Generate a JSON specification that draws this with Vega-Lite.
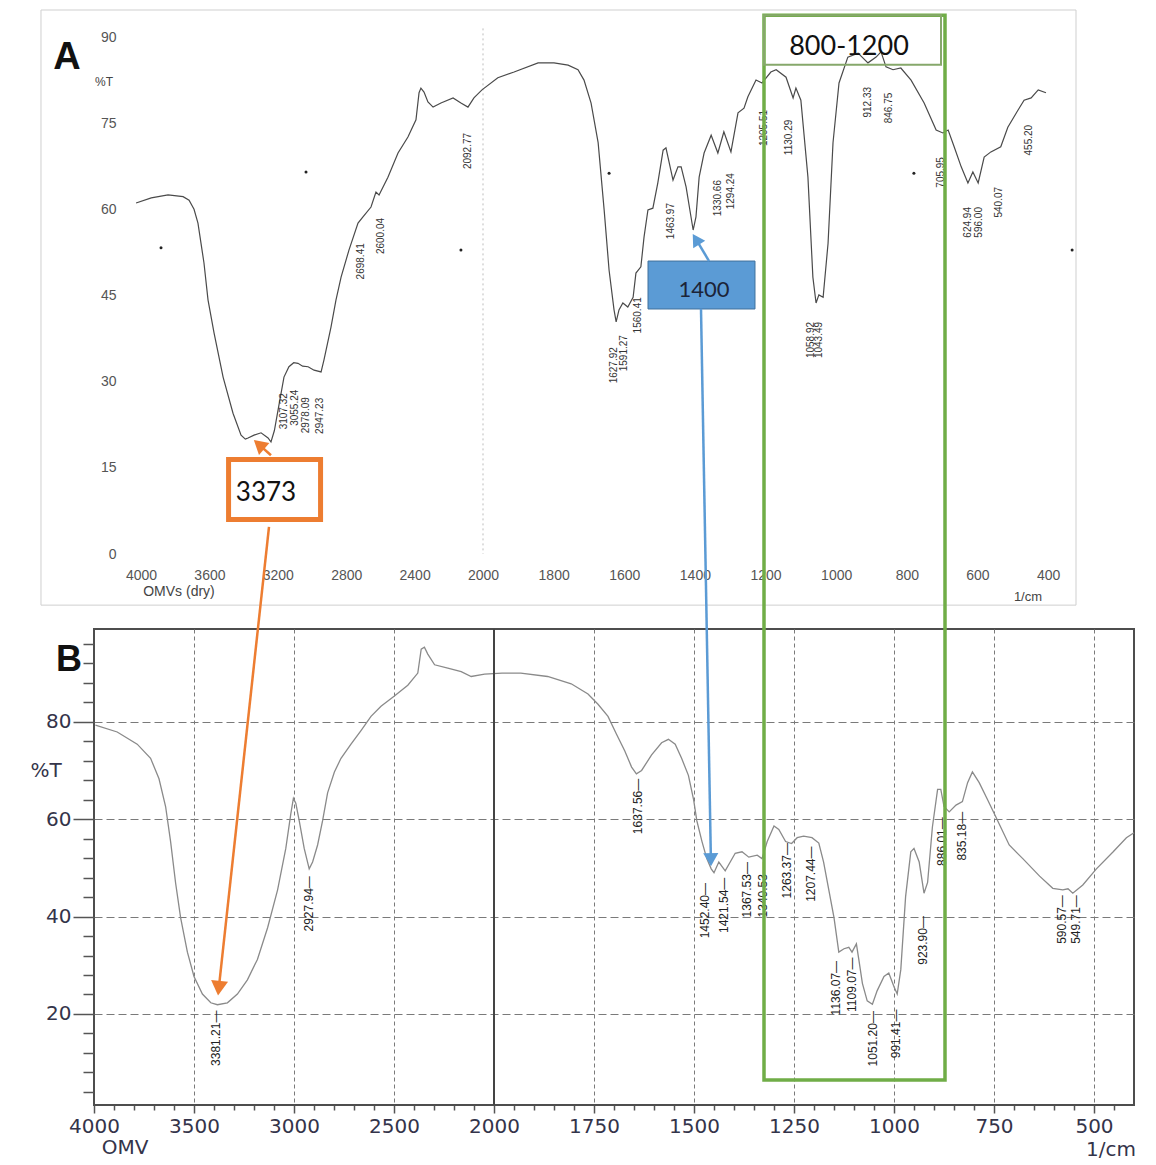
{
"$schema": "https://vega.github.io/schema/vega-lite/v6.json",
"padding": 0,
"autosize": {"type": "pad"},
"background": "white",
"spacing": 75,
"bounds": "flush",
"config": {"view": {"stroke": null}, "axis": {"labelFlush": false, "labelOverlap": false}, "font": "Liberation Sans"},
"datasets": {
"specA": [
{"wn":4029,"t":61.1},{"wn":3940,"t":62.0},{"wn":3842,"t":62.5},{"wn":3754,"t":62.2},{"wn":3719,"t":61.6},{"wn":3690,"t":60.0},{"wn":3667,"t":57.6},{"wn":3632,"t":50.7},{"wn":3608,"t":44.2},{"wn":3573,"t":38.5},{"wn":3520,"t":30.8},{"wn":3462,"t":24.5},{"wn":3415,"t":20.7},{"wn":3390,"t":20.0},{"wn":3374,"t":20.2},{"wn":3339,"t":20.7},{"wn":3298,"t":21.1},{"wn":3257,"t":20.2},{"wn":3240,"t":19.5},{"wn":3220,"t":21.5},{"wn":3199,"t":25.0},{"wn":3164,"t":30.8},{"wn":3135,"t":32.6},{"wn":3107,"t":33.3},{"wn":3082,"t":33.2},{"wn":3055,"t":32.7},{"wn":3023,"t":32.6},{"wn":2988,"t":32.0},{"wn":2947,"t":31.7},{"wn":2930,"t":33.8},{"wn":2889,"t":39.5},{"wn":2860,"t":44.2},{"wn":2830,"t":48.2},{"wn":2784,"t":52.9},{"wn":2731,"t":57.6},{"wn":2702,"t":58.7},{"wn":2655,"t":60.4},{"wn":2626,"t":63.0},{"wn":2608,"t":62.5},{"wn":2556,"t":65.6},{"wn":2497,"t":69.8},{"wn":2439,"t":72.6},{"wn":2392,"t":75.6},{"wn":2374,"t":80.3},{"wn":2363,"t":81.1},{"wn":2345,"t":80.4},{"wn":2322,"t":78.7},{"wn":2292,"t":77.8},{"wn":2246,"t":78.5},{"wn":2175,"t":79.4},{"wn":2129,"t":78.5},{"wn":2088,"t":77.8},{"wn":2053,"t":79.4},{"wn":2006,"t":80.8},{"wn":1958,"t":82.9},{"wn":1912,"t":83.9},{"wn":1844,"t":85.5},{"wn":1799,"t":85.5},{"wn":1759,"t":85.1},{"wn":1731,"t":84.3},{"wn":1714,"t":82.5},{"wn":1694,"t":78.5},{"wn":1674,"t":71.6},{"wn":1657,"t":59.9},{"wn":1643,"t":49.4},{"wn":1629,"t":42.5},{"wn":1623,"t":40.4},{"wn":1615,"t":42.5},{"wn":1604,"t":43.7},{"wn":1590,"t":43.0},{"wn":1575,"t":44.7},{"wn":1567,"t":48.9},{"wn":1553,"t":50.0},{"wn":1544,"t":55.2},{"wn":1533,"t":59.9},{"wn":1519,"t":60.2},{"wn":1505,"t":64.6},{"wn":1490,"t":70.3},{"wn":1482,"t":70.7},{"wn":1462,"t":65.1},{"wn":1448,"t":67.4},{"wn":1439,"t":67.4},{"wn":1425,"t":63.9},{"wn":1405,"t":56.4},{"wn":1397,"t":58.7},{"wn":1388,"t":65.6},{"wn":1374,"t":69.8},{"wn":1354,"t":72.9},{"wn":1335,"t":69.8},{"wn":1318,"t":73.5},{"wn":1298,"t":70.0},{"wn":1278,"t":76.8},{"wn":1261,"t":77.6},{"wn":1250,"t":79.6},{"wn":1227,"t":82.5},{"wn":1210,"t":82.0},{"wn":1185,"t":83.9},{"wn":1170,"t":84.3},{"wn":1142,"t":83.0},{"wn":1122,"t":79.4},{"wn":1114,"t":81.1},{"wn":1100,"t":79.0},{"wn":1080,"t":65.6},{"wn":1066,"t":48.2},{"wn":1057,"t":43.7},{"wn":1049,"t":45.1},{"wn":1037,"t":44.7},{"wn":1023,"t":54.1},{"wn":1009,"t":71.6},{"wn":992,"t":82.0},{"wn":967,"t":86.5},{"wn":938,"t":87.2},{"wn":910,"t":85.5},{"wn":887,"t":86.5},{"wn":873,"t":87.4},{"wn":859,"t":84.8},{"wn":839,"t":84.3},{"wn":817,"t":84.6},{"wn":788,"t":82.5},{"wn":751,"t":78.5},{"wn":717,"t":73.8},{"wn":698,"t":73.3},{"wn":683,"t":73.8},{"wn":666,"t":70.9},{"wn":646,"t":67.4},{"wn":627,"t":64.6},{"wn":613,"t":66.5},{"wn":598,"t":64.6},{"wn":581,"t":69.1},{"wn":562,"t":70.0},{"wn":534,"t":70.9},{"wn":514,"t":74.3},{"wn":485,"t":77.3},{"wn":468,"t":79.0},{"wn":448,"t":79.4},{"wn":428,"t":80.8},{"wn":406,"t":80.3}
],
"specB": [
{"wn":3993,"t":79.3},{"wn":3884,"t":77.9},{"wn":3784,"t":75.4},{"wn":3717,"t":72.5},{"wn":3675,"t":68.3},{"wn":3642,"t":62.6},{"wn":3617,"t":55.4},{"wn":3592,"t":46.9},{"wn":3567,"t":39.8},{"wn":3533,"t":32.7},{"wn":3500,"t":27.7},{"wn":3458,"t":24.1},{"wn":3416,"t":22.3},{"wn":3383,"t":21.9},{"wn":3333,"t":22.3},{"wn":3283,"t":24.1},{"wn":3233,"t":27.0},{"wn":3183,"t":31.2},{"wn":3132,"t":37.7},{"wn":3082,"t":45.5},{"wn":3041,"t":54.0},{"wn":3016,"t":61.1},{"wn":3003,"t":64.3},{"wn":2991,"t":63.3},{"wn":2974,"t":59.7},{"wn":2949,"t":54.0},{"wn":2924,"t":49.8},{"wn":2907,"t":51.2},{"wn":2882,"t":54.7},{"wn":2857,"t":59.7},{"wn":2832,"t":65.4},{"wn":2798,"t":69.7},{"wn":2765,"t":72.5},{"wn":2715,"t":75.4},{"wn":2665,"t":78.2},{"wn":2615,"t":81.1},{"wn":2565,"t":83.2},{"wn":2498,"t":85.3},{"wn":2431,"t":87.5},{"wn":2381,"t":90.0},{"wn":2364,"t":94.9},{"wn":2348,"t":95.3},{"wn":2331,"t":93.9},{"wn":2297,"t":91.7},{"wn":2231,"t":91.0},{"wn":2164,"t":90.3},{"wn":2114,"t":89.3},{"wn":2047,"t":89.8},{"wn":1980,"t":90.0},{"wn":1933,"t":90.0},{"wn":1866,"t":89.3},{"wn":1807,"t":87.8},{"wn":1765,"t":85.7},{"wn":1740,"t":83.6},{"wn":1715,"t":81.1},{"wn":1694,"t":77.5},{"wn":1673,"t":74.0},{"wn":1656,"t":70.7},{"wn":1644,"t":69.3},{"wn":1631,"t":70.0},{"wn":1606,"t":73.2},{"wn":1581,"t":75.7},{"wn":1564,"t":76.4},{"wn":1547,"t":75.4},{"wn":1531,"t":72.5},{"wn":1514,"t":69.0},{"wn":1501,"t":64.0},{"wn":1493,"t":59.7},{"wn":1480,"t":55.4},{"wn":1468,"t":51.9},{"wn":1457,"t":49.8},{"wn":1450,"t":49.0},{"wn":1438,"t":51.2},{"wn":1422,"t":49.4},{"wn":1397,"t":53.0},{"wn":1380,"t":53.3},{"wn":1363,"t":52.2},{"wn":1342,"t":52.6},{"wn":1330,"t":51.9},{"wn":1317,"t":55.4},{"wn":1300,"t":58.6},{"wn":1288,"t":57.9},{"wn":1271,"t":55.4},{"wn":1256,"t":55.0},{"wn":1242,"t":56.2},{"wn":1226,"t":56.5},{"wn":1205,"t":56.2},{"wn":1188,"t":55.1},{"wn":1176,"t":51.2},{"wn":1163,"t":45.5},{"wn":1150,"t":39.8},{"wn":1138,"t":32.7},{"wn":1125,"t":33.4},{"wn":1113,"t":33.7},{"wn":1105,"t":32.7},{"wn":1094,"t":34.4},{"wn":1088,"t":31.2},{"wn":1079,"t":26.3},{"wn":1067,"t":22.7},{"wn":1054,"t":22.0},{"wn":1042,"t":24.8},{"wn":1025,"t":27.7},{"wn":1013,"t":28.4},{"wn":1000,"t":25.6},{"wn":992,"t":24.1},{"wn":983,"t":29.1},{"wn":971,"t":44.1},{"wn":958,"t":53.3},{"wn":950,"t":54.0},{"wn":937,"t":51.2},{"wn":925,"t":44.8},{"wn":916,"t":47.0},{"wn":904,"t":58.4},{"wn":891,"t":66.1},{"wn":883,"t":66.1},{"wn":875,"t":62.6},{"wn":862,"t":61.5},{"wn":845,"t":62.9},{"wn":829,"t":63.6},{"wn":816,"t":67.5},{"wn":804,"t":69.7},{"wn":787,"t":67.5},{"wn":766,"t":64.0},{"wn":745,"t":60.4},{"wn":712,"t":54.7},{"wn":678,"t":51.9},{"wn":636,"t":48.3},{"wn":603,"t":45.8},{"wn":578,"t":45.5},{"wn":565,"t":45.7},{"wn":553,"t":44.8},{"wn":528,"t":46.5},{"wn":494,"t":49.8},{"wn":452,"t":53.3},{"wn":419,"t":56.2},{"wn":400,"t":57.2}
],
"labA": [
{"lab":"3107.32","pos":3164,"top":28.0},{"lab":"3055.24","pos":3099,"top":28.6},{"lab":"2978.09","pos":3035,"top":27.3},{"lab":"2947.23","pos":2953,"top":27.2},
{"lab":"2698.41","pos":2713,"top":54.1},{"lab":"2600.04","pos":2596,"top":58.5},{"lab":"2092.77","pos":2088,"top":73.3},
{"lab":"1627.92","pos":1629,"top":36.0},{"lab":"1591.27","pos":1601,"top":38.1},{"lab":"1560.41","pos":1561,"top":44.7},
{"lab":"1463.97","pos":1468,"top":61.1},{"lab":"1330.66","pos":1335,"top":65.1},{"lab":"1294.24","pos":1298,"top":66.3},
{"lab":"1205.51","pos":1204,"top":77.3},{"lab":"1130.29","pos":1134,"top":75.6},{"lab":"1058.92","pos":1071,"top":40.4},
{"lab":"1043.49","pos":1049,"top":40.4},{"lab":"912.33","pos":910,"top":81.3},{"lab":"846.75","pos":850,"top":80.3},
{"lab":"705.95","pos":703,"top":69.1},{"lab":"624.94","pos":627,"top":60.4},{"lab":"596.00","pos":596,"top":60.4},
{"lab":"540.07","pos":539,"top":63.9},{"lab":"455.20","pos":454,"top":74.7}
],
"labB": [
{"lab":"3381.21—","pos":3391,"top":20.7},{"lab":"2927.94—","pos":2924,"top":48.3},{"lab":"1637.56—","pos":1641,"top":68.3},
{"lab":"1452.40—","pos":1472,"top":46.9},{"lab":"1421.54—","pos":1426,"top":48.0},{"lab":"1367.53—","pos":1367,"top":51.2},
{"lab":"1340.53—","pos":1328,"top":51.2},{"lab":"1263.37—","pos":1268,"top":55.1},{"lab":"1207.44—","pos":1207,"top":54.4},
{"lab":"1136.07—","pos":1146,"top":30.9},{"lab":"1109.07—","pos":1105,"top":31.6},{"lab":"1051.20—","pos":1052,"top":20.6},
{"lab":"991.41—","pos":994,"top":20.9},{"lab":"923.90—","pos":927,"top":40.1},{"lab":"886.01—","pos":879,"top":60.4},
{"lab":"835.18—","pos":830,"top":61.5},{"lab":"590.57—","pos":579,"top":44.4},{"lab":"549.71—","pos":546,"top":44.4}
],
"dotsA": [
{"wn":3883,"t":53.3},{"wn":3035,"t":66.5},{"wn":2129,"t":52.9},{"wn":1643,"t":66.3},{"wn":780,"t":66.3},{"wn":332,"t":52.9}
]
},
"vconcat": [
{
"width": 982, "height": 517,
"resolve": {"axis": {"x": "independent", "y": "independent"}},
"layer": [
{"data": {"values": [{}]}, "mark": {"type": "rect", "fill": "white", "fillOpacity": 0},
 "encoding": {
  "x": {"datum": 4818.9, "type": "quantitative", "scale": {"domain": [4275, 2000, 321], "range": [0, 389, 982], "nice": false, "zero": false}, "axis": null},
  "x2": {"datum": 91.7},
  "y": {"datum": 96.44, "type": "quantitative", "scale": {"domain": [0, 90], "nice": false, "zero": false}, "axis": null},
  "y2": {"datum": -106.36}}},
{"data": {"values": [{}]}, "mark": {"type": "rect", "fill": null, "stroke": "#cfcfcf", "strokeWidth": 1},
 "encoding": {"x": {"datum": 4585, "type": "quantitative", "axis": null}, "x2": {"datum": 321}, "y": {"datum": 94.7, "type": "quantitative", "axis": null}, "y2": {"datum": -8.9}}},
{"data": {"values": [{}]}, "mark": {"type": "rule", "color": "#bdbdbd", "strokeDash": [2, 3], "strokeWidth": 1},
 "encoding": {"x": {"datum": 2000, "type": "quantitative", "axis": null}, "y": {"datum": 91.5, "type": "quantitative", "axis": null}, "y2": {"datum": 0}}},
{"data": {"name": "specA"}, "mark": {"type": "line", "color": "#4a4a4a", "strokeWidth": 1.2},
 "encoding": {
  "x": {"field": "wn", "type": "quantitative", "axis": {"orient": "bottom", "format": "d", "zindex": 1, "values": [4000,3600,3200,2800,2400,2000,1800,1600,1400,1200,1000,800,600,400], "title": null, "domain": false, "ticks": false, "tickSize": 0, "grid": false, "labelFontSize": 14, "labelColor": "#555555", "labelPadding": 14}},
  "y": {"field": "t", "type": "quantitative", "axis": {"orient": "left", "format": "d", "zindex": 1, "values": [0,15,30,45,60,75,90], "title": null, "domain": false, "ticks": false, "tickSize": 0, "grid": false, "offset": -24, "labelFontSize": 14, "labelColor": "#555555", "labelPadding": 2}}}},
{"data": {"name": "labA"}, "mark": {"type": "text", "angle": 270, "align": "right", "baseline": "middle", "fontSize": 10, "color": "#333333"},
 "encoding": {"x": {"field": "pos", "type": "quantitative", "axis": null}, "y": {"field": "top", "type": "quantitative", "axis": null}, "text": {"field": "lab"}}},
{"data": {"name": "dotsA"}, "mark": {"type": "point", "filled": true, "color": "#222222", "size": 9, "opacity": 1},
 "encoding": {"x": {"field": "wn", "type": "quantitative", "axis": null}, "y": {"field": "t", "type": "quantitative", "axis": null}}},
{"data": {"values": [{}]}, "mark": {"type": "rect", "fill": "white", "stroke": "#ED7D31", "strokeWidth": 5},
 "encoding": {"x": {"datum": 3488, "type": "quantitative", "axis": null}, "x2": {"datum": 2950}, "y": {"datum": 16.45, "type": "quantitative", "axis": null}, "y2": {"datum": 6.0}}},
{"data": {"values": [{}]}, "mark": {"type": "text", "text": "3373", "font": "Lato", "fontSize": 26, "color": "#111111", "align": "center", "baseline": "middle"},
 "encoding": {"x": {"datum": 3269, "type": "quantitative", "axis": null}, "y": {"datum": 10.6, "type": "quantitative", "axis": null}}},
{"data": {"values": [{}]}, "mark": {"type": "rule", "color": "#ED7D31", "strokeWidth": 2.5},
 "encoding": {"x": {"datum": 3240, "type": "quantitative", "axis": null}, "x2": {"datum": 3310}, "y": {"datum": 17.2, "type": "quantitative", "axis": null}, "y2": {"datum": 19.05}}},
{"data": {"values": [{}]}, "mark": {"type": "point", "shape": "triangle-up", "filled": true, "color": "#ED7D31", "size": 250, "angle": 311, "opacity": 1},
 "encoding": {"x": {"datum": 3310, "type": "quantitative", "axis": null}, "y": {"datum": 19.05, "type": "quantitative", "axis": null}}},
{"data": {"values": [{}]}, "mark": {"type": "rect", "fill": "#5B9BD5", "stroke": "#41719C", "strokeWidth": 1},
 "encoding": {"x": {"datum": 1532.8, "type": "quantitative", "axis": null}, "x2": {"datum": 1229.9}, "y": {"datum": 51.0, "type": "quantitative", "axis": null}, "y2": {"datum": 42.65}}},
{"data": {"values": [{}]}, "mark": {"type": "text", "text": "1400", "font": "Lato", "fontSize": 22, "color": "#1c2438", "align": "center", "baseline": "middle"},
 "encoding": {"x": {"datum": 1374.3, "type": "quantitative", "axis": null}, "y": {"datum": 45.96, "type": "quantitative", "axis": null}}},
{"data": {"values": [{}]}, "mark": {"type": "rule", "color": "#5B9BD5", "strokeWidth": 2.5},
 "encoding": {"x": {"datum": 1360, "type": "quantitative", "axis": null}, "x2": {"datum": 1397}, "y": {"datum": 51.0, "type": "quantitative", "axis": null}, "y2": {"datum": 54.8}}},
{"data": {"values": [{}]}, "mark": {"type": "point", "shape": "triangle-up", "filled": true, "color": "#5B9BD5", "size": 200, "angle": 328, "opacity": 1},
 "encoding": {"x": {"datum": 1397, "type": "quantitative", "axis": null}, "y": {"datum": 54.8, "type": "quantitative", "axis": null}}},
{"data": {"values": [{}]}, "mark": {"type": "text", "text": "A", "fontSize": 38, "fontWeight": "bold", "color": "#111111", "align": "center", "baseline": "middle"},
 "encoding": {"x": {"datum": 4433, "type": "quantitative", "axis": null}, "y": {"datum": 86.35, "type": "quantitative", "axis": null}}},
{"data": {"values": [{}]}, "mark": {"type": "text", "text": "%T", "fontSize": 12, "color": "#444444", "align": "center", "baseline": "middle"},
 "encoding": {"x": {"datum": 4216, "type": "quantitative", "axis": null}, "y": {"datum": 82.2, "type": "quantitative", "axis": null}}},
{"data": {"values": [{}]}, "mark": {"type": "text", "text": "OMVs (dry)", "fontSize": 14, "color": "#444444", "align": "center", "baseline": "middle"},
 "encoding": {"x": {"datum": 3778, "type": "quantitative", "axis": null}, "y": {"datum": -6.6, "type": "quantitative", "axis": null}}},
{"data": {"values": [{}]}, "mark": {"type": "text", "text": "1/cm", "fontSize": 13, "color": "#444444", "align": "center", "baseline": "middle"},
 "encoding": {"x": {"datum": 457, "type": "quantitative", "axis": null}, "y": {"datum": -7.5, "type": "quantitative", "axis": null}}}
]
},
{
"width": 1040, "height": 476,
"view": {"stroke": "#4d4d4d", "strokeWidth": 2},
"resolve": {"axis": {"x": "independent", "y": "independent"}},
"layer": [
{"data": {"name": "specB"}, "mark": {"type": "line", "strokeOpacity": 0},
 "encoding": {
  "x": {"field": "wn", "type": "quantitative", "scale": {"domain": [4000, 2000, 400], "range": [0, 400, 1040], "nice": false, "zero": false},
        "axis": {"orient": "bottom", "values": [3500,3000,2500,1750,1500,1250,1000,750,500], "grid": true, "gridDash": [4, 3], "gridColor": "#7a7a7a", "gridWidth": 1, "labels": false, "ticks": false, "domain": false, "title": null}},
  "y": {"field": "t", "type": "quantitative", "scale": {"domain": [1.31, 99.05], "nice": false, "zero": false},
        "axis": {"orient": "left", "values": [20,40,60,80], "grid": true, "gridDash": [8, 4], "gridColor": "#7a7a7a", "gridWidth": 1, "labels": false, "ticks": false, "domain": false, "title": null}}}},
{"data": {"name": "specB"}, "mark": {"type": "line", "strokeOpacity": 0},
 "encoding": {
  "x": {"field": "wn", "type": "quantitative",
        "axis": {"orient": "bottom", "values": [3900,3800,3700,3600,3400,3300,3200,3100,2900,2800,2700,2600,2400,2300,2200,2100,1950,1900,1850,1800,1700,1650,1600,1550,1450,1400,1350,1300,1200,1150,1100,1050,950,900,850,800,700,650,600,550,450], "grid": false, "labels": false, "ticks": true, "tickSize": 5, "tickColor": "#555555", "tickWidth": 1.5, "domain": false, "title": null}},
  "y": {"field": "t", "type": "quantitative",
        "axis": {"orient": "left", "values": [4,8,12,16,24,28,32,36,44,48,52,56,64,68,72,76,84,88,92,96], "grid": false, "labels": false, "ticks": true, "tickSize": 11, "tickColor": "#555555", "tickWidth": 1.5, "domain": false, "title": null}}}},
{"data": {"name": "specB"}, "mark": {"type": "line", "color": "#8a8a8a", "strokeWidth": 1.3},
 "encoding": {
  "x": {"field": "wn", "type": "quantitative",
        "axis": {"orient": "bottom", "format": "d", "values": [4000,3500,3000,2500,2000,1750,1500,1250,1000,750,500], "grid": false, "ticks": true, "tickSize": 8, "tickColor": "#555555", "tickWidth": 1.5, "domain": false, "title": null, "labelFont": "DejaVu Sans", "labelFontSize": 20, "labelColor": "#34344a", "labelPadding": 3}},
  "y": {"field": "t", "type": "quantitative",
        "axis": {"orient": "left", "format": "d", "values": [20,40,60,80], "grid": false, "ticks": true, "tickSize": 21, "tickColor": "#555555", "tickWidth": 1.5, "domain": false, "title": null, "labelFont": "DejaVu Sans", "labelFontSize": 20, "labelColor": "#34344a", "labelPadding": 2}}}},
{"data": {"values": [{}]}, "mark": {"type": "rule", "color": "#444444", "strokeWidth": 2},
 "encoding": {"x": {"datum": 2000, "type": "quantitative", "axis": null}, "y": {"datum": 99.05, "type": "quantitative", "axis": null}, "y2": {"datum": 1.31}}},
{"data": {"name": "labB"}, "mark": {"type": "text", "angle": 270, "align": "right", "baseline": "middle", "fontSize": 12, "color": "#222222"},
 "encoding": {"x": {"field": "pos", "type": "quantitative", "axis": null}, "y": {"field": "top", "type": "quantitative", "axis": null}, "text": {"field": "lab"}}},
{"data": {"values": [{}]}, "mark": {"type": "text", "text": "B", "fontSize": 36, "fontWeight": "bold", "color": "#111111", "align": "center", "baseline": "middle"},
 "encoding": {"x": {"datum": 4125, "type": "quantitative", "axis": null}, "y": {"datum": 92.7, "type": "quantitative", "axis": null}}},
{"data": {"values": [{}]}, "mark": {"type": "text", "text": "%T", "font": "DejaVu Sans", "fontSize": 20, "color": "#34344a", "align": "center", "baseline": "middle"},
 "encoding": {"x": {"datum": 4240, "type": "quantitative", "axis": null}, "y": {"datum": 69.9, "type": "quantitative", "axis": null}}},
{"data": {"values": [{}]}, "mark": {"type": "text", "text": "OMV", "font": "DejaVu Sans", "fontSize": 20, "color": "#34344a", "align": "center", "baseline": "middle"},
 "encoding": {"x": {"datum": 3845, "type": "quantitative", "axis": null}, "y": {"datum": -7.5, "type": "quantitative", "axis": null}}},
{"data": {"values": [{}]}, "mark": {"type": "text", "text": "1/cm", "font": "DejaVu Sans", "fontSize": 20, "color": "#34344a", "align": "right", "baseline": "middle"},
 "encoding": {"x": {"datum": 395, "type": "quantitative", "axis": null}, "y": {"datum": -7.9, "type": "quantitative", "axis": null}}},
{"data": {"values": [{}]}, "mark": {"type": "rect", "fill": null, "stroke": "#70AD47", "strokeWidth": 3.5},
 "encoding": {"x": {"datum": 1325, "type": "quantitative", "axis": null}, "x2": {"datum": 872.5}, "y": {"datum": 225.1, "type": "quantitative", "axis": null}, "y2": {"datum": 6.45}}},
{"data": {"values": [{}]}, "mark": {"type": "rect", "fill": null, "stroke": "#86a86b", "strokeWidth": 2},
 "encoding": {"x": {"datum": 1325, "type": "quantitative", "axis": null}, "x2": {"datum": 882.5}, "y": {"datum": 225.1, "type": "quantitative", "axis": null}, "y2": {"datum": 214.9}}},
{"data": {"values": [{}]}, "mark": {"type": "text", "text": "800-1200", "font": "Lato", "fontSize": 27, "color": "#111111", "align": "center", "baseline": "middle"},
 "encoding": {"x": {"datum": 1112.5, "type": "quantitative", "axis": null}, "y": {"datum": 218.6, "type": "quantitative", "axis": null}}},
{"data": {"values": [{}]}, "mark": {"type": "rule", "color": "#ED7D31", "strokeWidth": 2.5},
 "encoding": {"x": {"datum": 3125, "type": "quantitative", "axis": null}, "x2": {"datum": 3376}, "y": {"datum": 120.0, "type": "quantitative", "axis": null}, "y2": {"datum": 25.3}}},
{"data": {"values": [{}]}, "mark": {"type": "point", "shape": "triangle-up", "filled": true, "color": "#ED7D31", "size": 290, "angle": 186, "opacity": 1},
 "encoding": {"x": {"datum": 3376, "type": "quantitative", "axis": null}, "y": {"datum": 25.3, "type": "quantitative", "axis": null}}},
{"data": {"values": [{}]}, "mark": {"type": "rule", "color": "#5B9BD5", "strokeWidth": 2.5},
 "encoding": {"x": {"datum": 1482.5, "type": "quantitative", "axis": null}, "x2": {"datum": 1457.8}, "y": {"datum": 164.8, "type": "quantitative", "axis": null}, "y2": {"datum": 51.7}}},
{"data": {"values": [{}]}, "mark": {"type": "point", "shape": "triangle-up", "filled": true, "color": "#5B9BD5", "size": 230, "angle": 179, "opacity": 1},
 "encoding": {"x": {"datum": 1457.8, "type": "quantitative", "axis": null}, "y": {"datum": 51.7, "type": "quantitative", "axis": null}}}
]
}
]
}
